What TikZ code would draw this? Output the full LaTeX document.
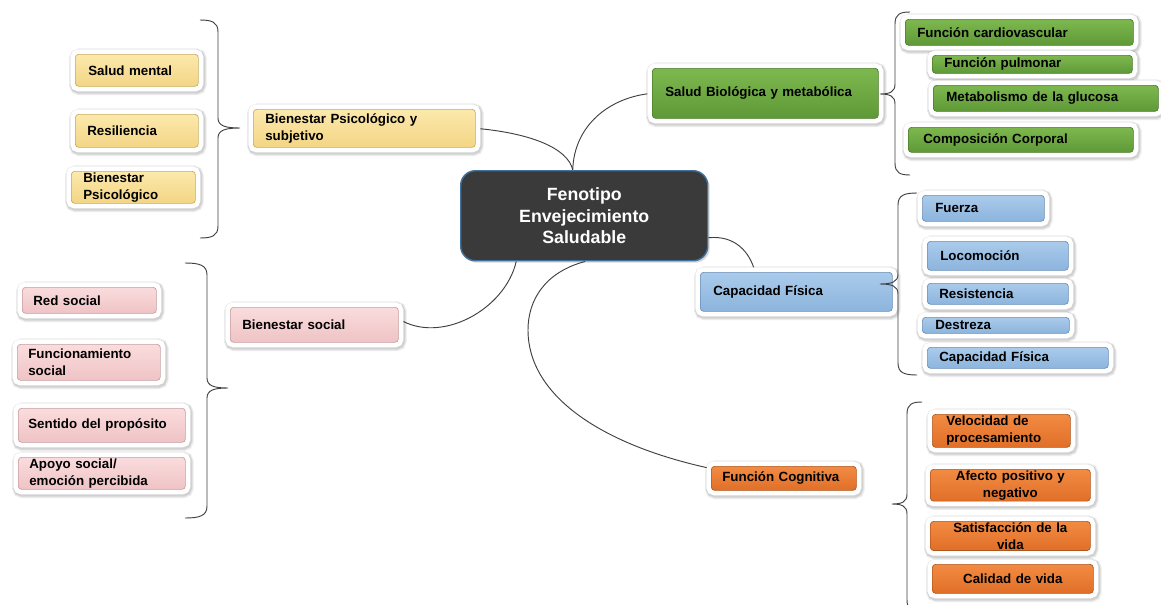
\documentclass[tikz,border=0pt]{standalone}
\usepackage{fontspec}
\setmainfont{Liberation Sans}[WordSpace=1.6]
\usetikzlibrary{calc,backgrounds}

% palette
\definecolor{ylwT}{HTML}{FCE9AC}\definecolor{ylwB}{HTML}{F3D585}\definecolor{ylwE}{HTML}{C8AA5C}
\definecolor{pnkT}{HTML}{FADCDD}\definecolor{pnkB}{HTML}{EFC3C5}\definecolor{pnkE}{HTML}{C89C9F}
\definecolor{grnT}{HTML}{7DB84F}\definecolor{grnB}{HTML}{5E9937}\definecolor{grnE}{HTML}{4A7A2A}
\definecolor{bluT}{HTML}{AACBEB}\definecolor{bluB}{HTML}{8CB4DD}\definecolor{bluE}{HTML}{6A8EB6}
\definecolor{orgT}{HTML}{F38B42}\definecolor{orgB}{HTML}{E06F28}\definecolor{orgE}{HTML}{B0561C}
\definecolor{coreFill}{HTML}{3A3A3A}\definecolor{coreEdge}{HTML}{41719C}
\definecolor{lineC}{HTML}{404040}

\tikzset{
  x=0.75pt, y=-0.75pt,
  conn/.style={draw=lineC, line width=0.7pt},
  bracepath/.style={draw=lineC, line width=0.7pt},
  % width, height and left padding of a box, all in px
  dims/.code n args={3}{%
    \pgfmathsetlengthmacro\bxw{(#1-2*#3)*0.75pt}%
    \pgfmathsetlengthmacro\bxp{#3*0.75pt}%
    \pgfmathsetlengthmacro\bxh{#2*0.75pt}%
    \edef\bxnext{\noexpand\tikzset{text width=\bxw, inner xsep=\bxp, minimum height=\bxh}}\bxnext},
  box/.style={rectangle, rounded corners=2.5pt, anchor=north west, inner ysep=1pt,
    align=left, text=black, font=\fontsize{10}{12.5}\selectfont\bfseries,
    preaction={draw=black, draw opacity=0.08, line width=11pt,
      transform canvas={xshift=0.8pt, yshift=-1.1pt}},
    preaction={draw=black, draw opacity=0.11, line width=9.2pt,
      transform canvas={xshift=0.6pt, yshift=-0.9pt}},
    preaction={draw=white, line width=7.5pt},
    line width=0.5pt},
  ylw/.style={box, top color=ylwT, bottom color=ylwB, draw=ylwE},
  pnk/.style={box, top color=pnkT, bottom color=pnkB, draw=pnkE},
  grn/.style={box, top color=grnT, bottom color=grnB, draw=grnE},
  blu/.style={box, top color=bluT, bottom color=bluB, draw=bluE},
  org/.style={box, top color=orgT, bottom color=orgB, draw=orgE},
  core/.style={rectangle, rounded corners=11pt, anchor=north west, fill=coreFill,
    draw=coreEdge, line width=1.1pt, text=white, align=center, inner sep=0pt,
    minimum width=185.25pt, minimum height=67.5pt, text width=170pt,
    font=\fontsize{13.3}{16.3}\selectfont\bfseries,
    preaction={fill=black, fill opacity=0.15, draw=none,
      transform canvas={xshift=1.5pt, yshift=-1.5pt}}},
}

% curly bracket: end x, stem x, tip x, top y, tip y, bottom y
\newcommand\drawbrace[6]{%
  \pgfmathsetmacro\bA{#1+0.65*(#2-#1)}%
  \pgfmathsetmacro\bB{#2+0.35*(#3-#2)}%
  \draw[bracepath] (#1,#4) .. controls (\bA,#4) and (#2,#4+2) .. (#2,#4+12)
    -- (#2,#5-10) .. controls (#2,#5-2) and (\bB,#5) .. (#3,#5)
    .. controls (\bB,#5) and (#2,#5+2) .. (#2,#5+10)
    -- (#2,#6-12) .. controls (#2,#6-2) and (\bA,#6) .. (#1,#6);
}

\begin{document}
\begin{tikzpicture}
\useasboundingbox (0,0) rectangle (1161,604);
\clip (0,0) rectangle (1161,604);

% central node
\node[core] (cent) at (460,170) {Fenotipo\\Envejecimiento\\Saludable};

% psychological well-being
\node[ylw, dims={222}{38}{12}] (bps) at (253,109) {Bienestar Psicológico y\\subjetivo};
\node[ylw, dims={123}{32}{13}] (sm) at (75,54) {Salud mental};
\node[ylw, dims={123}{33}{12}] (res) at (75,114) {Resiliencia};
\node[ylw, dims={124}{32}{12}] (bpsi) at (71,171) {Bienestar\\Psicológico};

% social well-being
\node[pnk, dims={168}{35}{12}] (bs) at (230,307) {Bienestar social};
\node[pnk, dims={134}{26}{11}] (rs) at (22,287) {Red social};
\node[pnk, dims={143}{36}{11}] (fs) at (17,344) {Funcionamiento\\social};
\node[pnk, dims={167}{34}{10}] (sp) at (18,408) {Sentido del propósito};
\node[pnk, dims={167}{32}{11}] (aps) at (18,457) {Apoyo social/\\emoción percibida};

% biological health
\node[grn, dims={226}{50}{13}] (sbm) at (652,68) {Salud Biológica y metabólica};
\node[grn, dims={228}{26}{12}] (fcv) at (905,19) {Función cardiovascular};
\node[grn, dims={200}{18}{12}, inner ysep=0pt] (fpu) at (932,55) {Función pulmonar};
\node[grn, dims={225}{26}{13}] (mgl) at (933,85) {Metabolismo de la glucosa};
\node[grn, dims={225}{25}{15}] (ccp) at (908,127) {Composición Corporal};

% physical capacity
\node[blu, dims={192}{39}{13}] (cf) at (700,272) {Capacidad Física};
\node[blu, dims={122}{26}{13}] (fue) at (922,195) {Fuerza};
\node[blu, dims={141}{29}{13}] (loc) at (927,241) {Locomoción};
\node[blu, dims={141}{21}{12}] (rst) at (927,283) {Resistencia};
\node[blu, dims={147}{16}{13}, inner ysep=0pt] (des) at (922,317) {Destreza};
\node[blu, dims={181}{21}{12}] (cfb) at (927,347) {Capacidad Física};

% cognitive function
\node[org, dims={145}{24}{11}] (fcog) at (711,466) {Función Cognitiva};
\node[org, dims={138}{33}{14}] (vpr) at (932,414) {Velocidad de\\procesamiento};
\node[org, dims={160}{29}{8}, align=center] (apn) at (930,469) {Afecto positivo y\\negativo};
\node[org, dims={160}{27}{8}, align=center] (sdv) at (930,521) {Satisfacción de la\\vida};
\node[org, dims={161}{29}{8}, align=center] (cdv) at (932,564) {Calidad de vida};

% connectors run underneath the boxes
\begin{pgfonlayer}{background}
  \fill[white] (0,0) rectangle (1161,604);
  \draw[conn] (bps.east) .. controls (530,133) and (568,148) .. ($(cent.north)+(-11.5,0)$);
  \draw[conn] ($(cent.north)+(-11.5,0)$) .. controls (574,125) and (610,97) .. (sbm.west);
  \draw[conn] ($(cent.east)+(0,22)$) .. controls (735,235) and (750,252) .. ($(cf.north west)+(55,0)$);
  \draw[conn] ($(bs.east)+(0,-6)$) .. controls (440,345) and (505,310) .. ($(cent.south)+(-68,0)$);
  \draw[conn] ($(cent.south)+(1,0)$) .. controls (545,272) and (528,300) .. (528,330)
    .. controls (528,395) and (600,445) .. ($(fcog.north west)+(2,3)$);
\end{pgfonlayer}

% brackets gathering the sub-items
\drawbrace{200}{218}{240}{20}{128}{238}
\drawbrace{185}{207}{228}{263}{388}{518}
\drawbrace{910}{895}{880}{12}{94}{175}
\drawbrace{917}{898}{880}{193}{284}{375}
\drawbrace{922}{907}{892}{402}{504}{612}
\end{tikzpicture}
\end{document}
